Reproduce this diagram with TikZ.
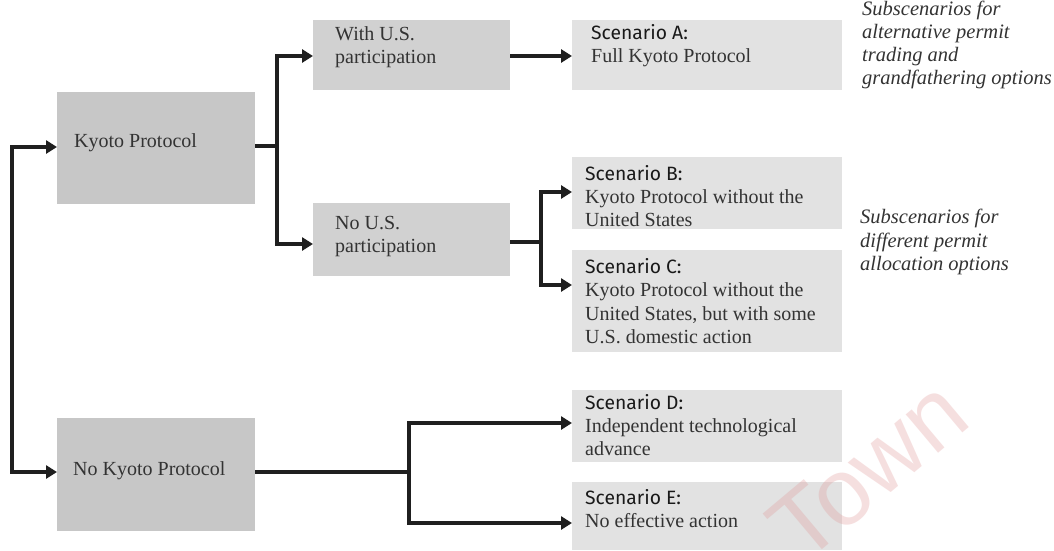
\documentclass[tikz,border=0pt]{standalone}
\usepackage{fontspec}
\setmainfont{Liberation Serif}
\setsansfont{Liberation Sans}
\newfontfamily\labfam{Fira Sans}
\usetikzlibrary{arrows.meta}
\newcommand\bodyf{\fontsize{20}{23.3}\selectfont}
\newcommand\labf{\labfam\fontsize{19.3}{23.3}\selectfont}
\newcommand\itf{\itshape\fontsize{20.5}{23.3}\selectfont}
\definecolor{boxdark}{gray}{0.78}
\definecolor{boxmid}{gray}{0.82}
\definecolor{boxlight}{gray}{0.885}
\definecolor{txtc}{gray}{0.2}
\definecolor{wmc}{RGB}{225,150,150}
\begin{document}
\begin{tikzpicture}[x=1pt,y=-1pt,
  box/.style={rectangle, inner sep=0, outer sep=0, anchor=north west},
  bigbox/.style={box, fill=boxdark},
  midbox/.style={box, fill=boxmid},
  scenbox/.style={box, fill=boxlight, minimum width=270pt},
  txt/.style={anchor=west, inner sep=0, align=left, font=\bodyf, text=txtc},
  note/.style={anchor=west, inner sep=0, align=left, font=\itf, text=txtc},
  ln/.style={line width=3.6pt, draw=black!88, line join=miter},
  arr/.style={ln, -{Triangle[length=11pt,width=13pt]}},
  arrtwo/.style={ln, {Triangle[length=11pt,width=13pt]}-{Triangle[length=11pt,width=13pt]}},
  wm/.style={rotate=40, inner sep=0, font=\sffamily\fontsize{95}{95}\selectfont, text=wmc, opacity=0.3}]
\useasboundingbox (0,0) rectangle (1054,550);
\fill[white] (0,0) rectangle (1054,550);

% boxes
\node[bigbox, minimum width=198pt, minimum height=112pt] (kp) at (57,92) {};
\node[bigbox, minimum width=198pt, minimum height=113pt] (nkp) at (57,418) {};
\node[midbox, minimum width=197pt, minimum height=70pt] (with) at (313,20) {};
\node[midbox, minimum width=197pt, minimum height=73pt] (nous) at (313,203) {};
\node[scenbox, minimum height=70pt] (A) at (572,20) {};
\node[scenbox, minimum height=72pt] (B) at (572,157) {};
\node[scenbox, minimum height=102pt] (C) at (572,250) {};
\node[scenbox, minimum height=72pt] (D) at (572,390) {};
\node[scenbox, minimum height=68pt] (E) at (572,482) {};

% texts
\node[txt] (kpT) at (74,143) {Kyoto Protocol};
\node[txt] (nkpT) at (73,471) {No Kyoto Protocol};
\node[txt] (withT) at (335,47.5) {With U.S.\\participation};
\node[txt] (nousT) at (335,236.5) {No U.S.\\participation};
\node[txt] (AT) at (591,45.5) {{\labf\color{black!90}Scenario A:}\\Full Kyoto Protocol};
\node[txt] (BT) at (585,196) {{\labf\color{black!90}Scenario B:}\\Kyoto Protocol without the\\United States};
\node[txt] (CT) at (585,301) {{\labf\color{black!90}Scenario C:}\\Kyoto Protocol without the\\United States, but with some\\U.S. domestic action};
\node[txt] (DT) at (585,425) {{\labf\color{black!90}Scenario D:}\\Independent technological\\advance};
\node[txt] (ET) at (585,508.5) {{\labf\color{black!90}Scenario E:}\\No effective action};
\node[note] (n1) at (862,45) {Subscenarios for\\alternative permit\\trading and\\grandfathering options};
\node[note] (n2) at (860,242) {Subscenarios for\\different permit\\allocation options};

% connectors
\coordinate (lt) at (12,147);
\coordinate (lb) at (12,472);
\draw[arrtwo] (kp.west |- lt) -- (lt) -- (lb) -- (nkp.west |- lb);

\coordinate (j1) at (277,146);
\coordinate (j1t) at (277,56);
\coordinate (j1b) at (277,244);
\draw[ln] (kp.east |- j1) -- (j1);
\draw[arrtwo] (with.west |- j1t) -- (j1t) -- (j1b) -- (nous.west |- j1b);

\coordinate (ja) at (540,56);
\draw[arr] (with.east |- ja) -- (A.west |- ja);

\coordinate (j2) at (541,242);
\coordinate (j2t) at (541,192);
\coordinate (j2b) at (541,285);
\draw[ln] (nous.east |- j2) -- (j2);
\draw[arrtwo] (B.west |- j2t) -- (j2t) -- (j2b) -- (C.west |- j2b);

\coordinate (j3) at (409,472);
\coordinate (j3t) at (409,423);
\coordinate (j3b) at (409,523);
\draw[ln] (nkp.east |- j3) -- (j3);
\draw[arrtwo] (D.west |- j3t) -- (j3t) -- (j3b) -- (E.west |- j3b);

% watermark
\node[wm] (town) at (868,470) {Town};
\end{tikzpicture}
\end{document}
